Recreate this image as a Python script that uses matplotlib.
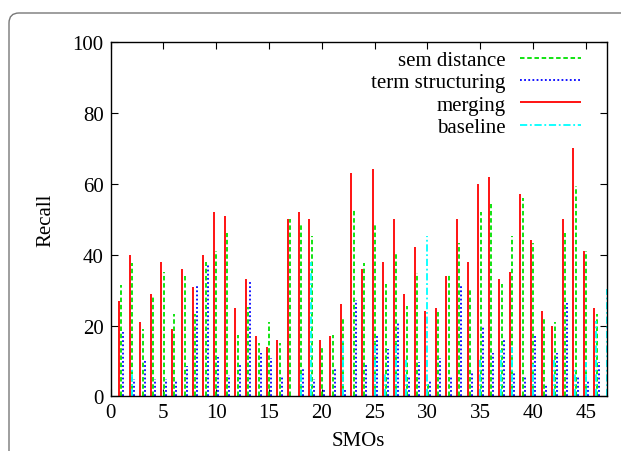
import matplotlib
matplotlib.use("Agg")
import matplotlib.pyplot as plt
from matplotlib.patches import FancyBboxPatch
import numpy as np

plt.rcParams['font.family'] = ['Liberation Serif', 'DejaVu Serif']

smo = list(range(1, 48))

merging = [27, 40, 21, 29, 38, 19, 36, 31, 40, 52, 51, 25, 33, 17, 14, 16,
           50, 52, 50, 16, 17, 26, 63, 36, 64, 38, 50, 29, 42, 24, 25, 34,
           50, 38, 60, 62, 33, 35, 57, 44, 24, 20, 50, 70, 41, 25, 0]
sem_distance = [31.5, 37.5, 19, 28.7, 35, 23.3, 34, 23.3, 38, 41, 46, 17.3,
                25.2, 15, 21, 15.2, 50, 48.2, 45.1, 14.3, 17.2, 22.1, 52.9,
                37.7, 48.2, 31.7, 40.2, 25.6, 34.7, 4, 24.2, 34.2, 43.2, 30.1,
                52, 54.3, 31.7, 45.2, 56, 43.2, 22.1, 21.1, 46.1, 59.2, 40.9,
                23.3, 0]
term_struct = [18.2, 4.9, 10, 4.8, 4.8, 4.5, 8.5, 31.3, 37, 11, 6, 9.2, 32.5,
               12.3, 10.9, 5.9, 0, 8.3, 4.9, 2, 8.2, 2, 27.1, 9.3, 17.3, 13.4,
               20.9, 5.9, 9.7, 4.4, 10.8, 5.9, 31.3, 7.2, 20, 12.3, 16.2, 7.3,
               5.9, 17.4, 3.2, 12.3, 26.3, 5.9, 4.6, 9.6, 0]
baseline = [0, 7.6, 0, 0, 0, 0, 0, 0, 0, 0, 0, 0, 0, 0, 0, 0, 0, 7, 37.8, 0,
            0, 15.8, 0, 0, 15.3, 6.5, 15.4, 10.6, 0, 45.3, 0, 0, 0, 0, 10.6,
            0, 13, 14, 0, 9.2, 0, 10.6, 0, 8, 9.7, 21.4, 30.3]

x = np.array(smo, dtype=float)

fig = plt.figure(figsize=(6.21, 4.52), dpi=100)
ax = fig.add_axes([0.178, 0.1206, 0.7995, 0.7849])

lw = 1.3
ax.vlines(x + 0.03, 0, sem_distance, colors='#00e000', linestyles=(0, (2.5, 1.5)), lw=lw, label='sem distance')
ax.vlines(x + 0.22, 0, term_struct, colors='#0000ff', linestyles=(0, (1, 1.3)), lw=lw, label='term structuring')
ax.vlines(x - 0.2, 0, merging, colors='#ff0000', linestyles='solid', lw=lw, label='merging')
ax.vlines(x + 0.0, 0, baseline, colors='#00ffff', linestyles=(0, (4, 1.5, 1, 1.5)), lw=lw, label='baseline', clip_on=False)

ax.set_xlim(0, 47)
ax.set_ylim(0, 100)
ax.set_xticks(range(0, 46, 5))
ax.set_yticks(range(0, 101, 20))
ax.tick_params(direction='in', length=5, width=0.8, top=True, right=True, labelsize=15, pad=5)
for s in ax.spines.values():
    s.set_linewidth(1.0)

ax.set_xlabel('SMOs', fontsize=15, labelpad=6)
ax.set_ylabel('Recall', fontsize=15, labelpad=12)

leg = ax.legend(loc='upper right', bbox_to_anchor=(0.947, 0.975), frameon=False,
                markerfirst=False, fontsize=15, handlelength=2.9, handletextpad=0.7,
                labelspacing=0.13, borderaxespad=0, borderpad=0)

frame = FancyBboxPatch((0.09, -0.5), 7.0, 4.38 + 0.5,
                       boxstyle="round,pad=0,rounding_size=0.1",
                       transform=fig.dpi_scale_trans, fill=False,
                       edgecolor='#777777', lw=1.0)
fig.add_artist(frame)

fig.savefig('out.png', dpi=100)
